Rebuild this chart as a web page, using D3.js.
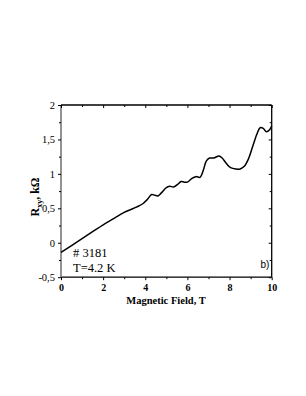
<!DOCTYPE html>
<html><head><meta charset="utf-8">
<script src="https://cdn.jsdelivr.net/npm/d3@7"></script>
<style>body{margin:0;background:#fff}svg{display:block}</style>
</head><body>
<script>
const fieldT = [0,0.5,1.0,1.5,2.0,2.5,3.0,3.3,3.6,3.9,4.1,4.3,4.45,4.6,4.75,5.0,5.15,5.35,5.55,5.7,5.85,6.0,6.2,6.4,6.6,6.75,6.9,7.05,7.25,7.5,7.65,7.85,8.05,8.3,8.5,8.7,8.9,9.1,9.3,9.45,9.6,9.75,9.9,10];
const rxy = [-0.14,-0.04,0.06,0.16,0.26,0.35,0.44,0.48,0.52,0.57,0.63,0.70,0.69,0.68,0.72,0.80,0.82,0.81,0.85,0.89,0.88,0.88,0.93,0.96,0.95,1.05,1.19,1.23,1.23,1.26,1.23,1.15,1.09,1.07,1.07,1.11,1.22,1.40,1.58,1.67,1.66,1.61,1.64,1.70];
const xTicks = [0,2,4,6,8,10];
const yTicks = [-0.5,0,0.5,1,1.5,2];
const yTickLabels = ["-0,5","0","0,5","1","1,5","2"];

const W=306,H=396;
const svg=d3.select("body").append("svg").attr("width",W).attr("height",H);
const x=d3.scaleLinear().domain([0,10]).range([61,271.7]);
const y=d3.scaleLinear().domain([-0.5,2]).range([277.2,105]);
const serif="'Liberation Serif','Times New Roman',serif";

// frame
svg.append("line").attr("x1",x(0)).attr("x2",x(10)).attr("y1",y(2)).attr("y2",y(2)).attr("stroke","#000").attr("stroke-width",1.3);
svg.append("line").attr("x1",x(10)).attr("x2",x(10)).attr("y1",y(2)).attr("y2",y(-0.5)).attr("stroke","#000").attr("stroke-width",1.3);
svg.append("line").attr("x1",x(0)).attr("x2",x(10)).attr("y1",y(-0.5)).attr("y2",y(-0.5)).attr("stroke","#000").attr("stroke-width",1.3);
svg.append("line").attr("x1",x(0)).attr("x2",x(0)).attr("y1",y(2)).attr("y2",y(-0.5)).attr("stroke","#777").attr("stroke-width",1.6);

const minorX=d3.range(1,10,2), minorY=d3.range(-0.25,2,0.5);
// bottom axis
const gb=svg.append("g").attr("transform",`translate(0,${y(-0.5)})`)
 .call(d3.axisBottom(x).tickValues(xTicks).tickSize(3).tickPadding(4).tickFormat(d3.format("d")));
gb.select(".domain").remove();
gb.selectAll("text").attr("font-family",serif).attr("font-weight","bold").attr("font-size",10);
svg.append("g").attr("transform",`translate(0,${y(-0.5)})`).call(d3.axisBottom(x).tickValues(minorX).tickSize(2).tickFormat("")).select(".domain").remove();
// top axis
const gt=svg.append("g").attr("transform",`translate(0,${y(2)})`).call(d3.axisBottom(x).tickValues(xTicks).tickSize(3).tickFormat(""));
gt.select(".domain").remove();
svg.append("g").attr("transform",`translate(0,${y(2)})`).call(d3.axisBottom(x).tickValues(minorX).tickSize(2).tickFormat("")).select(".domain").remove();
// left axis
const gl=svg.append("g").attr("transform",`translate(${x(0)},0)`)
 .call(d3.axisLeft(y).tickValues(yTicks).tickSize(3).tickPadding(3).tickFormat((d,i)=>yTickLabels[i]));
gl.select(".domain").remove();
gl.selectAll("text").attr("font-family",serif).attr("font-size",10.5);
svg.append("g").attr("transform",`translate(${x(0)},0)`).call(d3.axisLeft(y).tickValues(minorY).tickSize(2).tickFormat("")).select(".domain").remove();
// right axis
const gr=svg.append("g").attr("transform",`translate(${x(10)},0)`).call(d3.axisLeft(y).tickValues(yTicks).tickSize(3).tickFormat(""));
gr.select(".domain").remove();
svg.append("g").attr("transform",`translate(${x(10)},0)`).call(d3.axisLeft(y).tickValues(minorY).tickSize(2).tickFormat("")).select(".domain").remove();

// curve
const pts=fieldT.map((d,i)=>[d,rxy[i]]);
svg.append("path").datum(pts).attr("fill","none").attr("stroke","#000").attr("stroke-width",1.5)
 .attr("d",d3.line().x(d=>x(d[0])).y(d=>y(d[1])).curve(d3.curveCatmullRom.alpha(0.5)));

// labels
svg.append("text").attr("x",166).attr("y",304).attr("text-anchor","middle").attr("font-family",serif).attr("font-weight","bold").attr("font-size",10.5).text("Magnetic Field, T");
const yl=svg.append("text").attr("transform","translate(38.5,197) rotate(-90)").attr("text-anchor","middle").attr("font-family",serif).attr("font-weight","bold").attr("font-size",12);
yl.append("tspan").text("R");
yl.append("tspan").attr("font-size",8).attr("dy",3).text("xy");
yl.append("tspan").attr("dy",-3).text(", kΩ");
svg.append("text").attr("x",73).attr("y",257).attr("font-family",serif).attr("font-size",12.5).text("# 3181");
svg.append("text").attr("x",73).attr("y",272).attr("font-family",serif).attr("font-size",12.5).text("T=4.2 K");
svg.append("text").attr("x",260.5).attr("y",268).attr("font-family","'Liberation Sans',Arial,sans-serif").attr("font-size",10).text("b)");
</script>
</body></html>
